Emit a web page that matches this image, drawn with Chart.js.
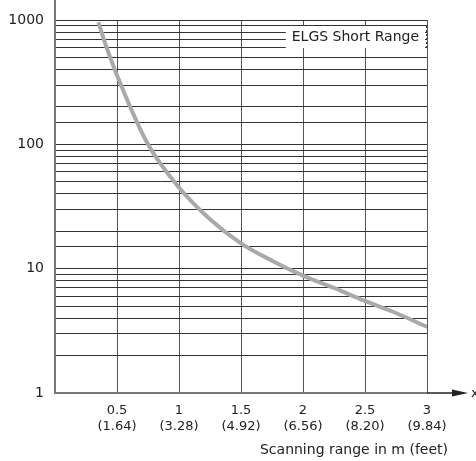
<!DOCTYPE html>
<html>
<head>
<meta charset="utf-8">
<script src="https://cdn.jsdelivr.net/npm/chart.js@4/dist/chart.umd.min.js"></script>
<style>
  html, body { margin: 0; padding: 0; background: #fff; }
  #wrap { width: 476px; height: 461px; }
</style>
</head>
<body>
<div id="wrap"><canvas id="chart" width="476" height="461"></canvas></div>
<script>
// scanning range in m, and the value on the log axis
const rangeM = [0.35, 0.4, 0.5, 0.75, 1, 1.25, 1.5, 1.75, 2, 2.25, 2.5, 2.75, 3];
const values = [960, 670, 360, 100, 45, 25, 16, 11.6, 8.8, 7.0, 5.5, 4.4, 3.4];
const xTicks = [0.5, 1, 1.5, 2, 2.5, 3];
const xTickFeet = ['(1.64)', '(3.28)', '(4.92)', '(6.56)', '(8.20)', '(9.84)'];
const yTicks = [1, 10, 100, 1000];
const seriesName = 'ELGS Short Range';
const xTitle = 'Scanning range in m (feet)';

const FONT = '"DejaVu Sans", sans-serif';

// extra bits: axis extensions, arrow, legend box, axis title
const extras = {
    id: 'extras',
    afterDraw(chart) {
        const { ctx, chartArea: a } = chart;
        ctx.save();
        // y axis goes up to the top edge
        ctx.strokeStyle = '#777';
        ctx.lineWidth = 2;
        ctx.beginPath();
        ctx.moveTo(a.left, 0);
        ctx.lineTo(a.left, a.bottom);
        ctx.stroke();
        // x axis runs on to an arrow
        ctx.strokeStyle = '#222';
        ctx.lineWidth = 1.5;
        ctx.beginPath();
        ctx.moveTo(a.right, a.bottom);
        ctx.lineTo(455, a.bottom);
        ctx.stroke();
        ctx.fillStyle = '#222';
        ctx.beginPath();
        ctx.moveTo(468, a.bottom);
        ctx.lineTo(452, a.bottom - 3.5);
        ctx.lineTo(452, a.bottom + 3.5);
        ctx.closePath();
        ctx.fill();
        ctx.font = '13px ' + FONT;
        ctx.textAlign = 'left';
        ctx.textBaseline = 'middle';
        ctx.fillText('x', 471, a.bottom + 1);

        // legend label in a white box
        ctx.font = '14px ' + FONT;
        const w = ctx.measureText(seriesName).width;
        const bx = a.right - w - 14, by = a.top + 6;
        ctx.fillStyle = '#fff';
        ctx.fillRect(bx, by, w + 12, 22);
        ctx.fillStyle = '#222';
        ctx.textAlign = 'left';
        ctx.fillText(seriesName, bx + 6, by + 11);
        ctx.strokeStyle = '#333';
        ctx.lineWidth = 1;
        ctx.setLineDash([2, 2]);
        ctx.beginPath();
        ctx.moveTo(a.right - 0.5, by);
        ctx.lineTo(a.right - 0.5, by + 22);
        ctx.stroke();
        ctx.setLineDash([]);

        // axis title
        ctx.font = '14px ' + FONT;
        ctx.textAlign = 'right';
        ctx.fillStyle = '#222';
        ctx.fillText(xTitle, 448, 450);
        ctx.restore();
    }
};

new Chart(document.getElementById('chart').getContext('2d'), {
    type: 'line',
    data: {
        datasets: [{
            label: seriesName,
            data: rangeM.map((x, i) => ({ x: x, y: values[i] })),
            borderColor: '#a9a9a9',
            borderWidth: 4,
            pointRadius: 0,
            fill: false,
            cubicInterpolationMode: 'monotone'
        }]
    },
    options: {
        responsive: false,
        animation: false,
        layout: { padding: { left: 0, right: 49, top: 20, bottom: 0 } },
        plugins: {
            legend: { display: false },
            tooltip: { enabled: false }
        },
        scales: {
            x: {
                type: 'linear',
                min: 0,
                max: 3,
                afterBuildTicks: (scale) => {
                    scale.ticks = [{ value: 0 }].concat(xTicks.map(v => ({ value: v })));
                },
                afterFit: (scale) => { scale.height = 68; },
                grid: { color: '#555', lineWidth: 1, drawTicks: false },
                border: { color: '#777', width: 2 },
                ticks: {
                    padding: 10,
                    color: '#222',
                    font: { family: FONT, size: 13, lineHeight: 1.2 },
                    maxRotation: 0,
                    callback: (v) => {
                        const i = xTicks.indexOf(v);
                        return i < 0 ? '' : [String(v), xTickFeet[i]];
                    }
                }
            },
            y: {
                type: 'logarithmic',
                min: 1,
                max: 1000,
                afterFit: (scale) => { scale.width = 55; },
                grid: { color: '#333', lineWidth: 1, drawTicks: false },
                border: { color: '#777', width: 2 },
                ticks: {
                    padding: 11,
                    color: '#222',
                    autoSkip: false,
                    font: { family: FONT, size: 14 },
                    callback: (v) => yTicks.includes(v) ? String(v) : ''
                }
            }
        }
    },
    plugins: [extras]
});
</script>
</body>
</html>
